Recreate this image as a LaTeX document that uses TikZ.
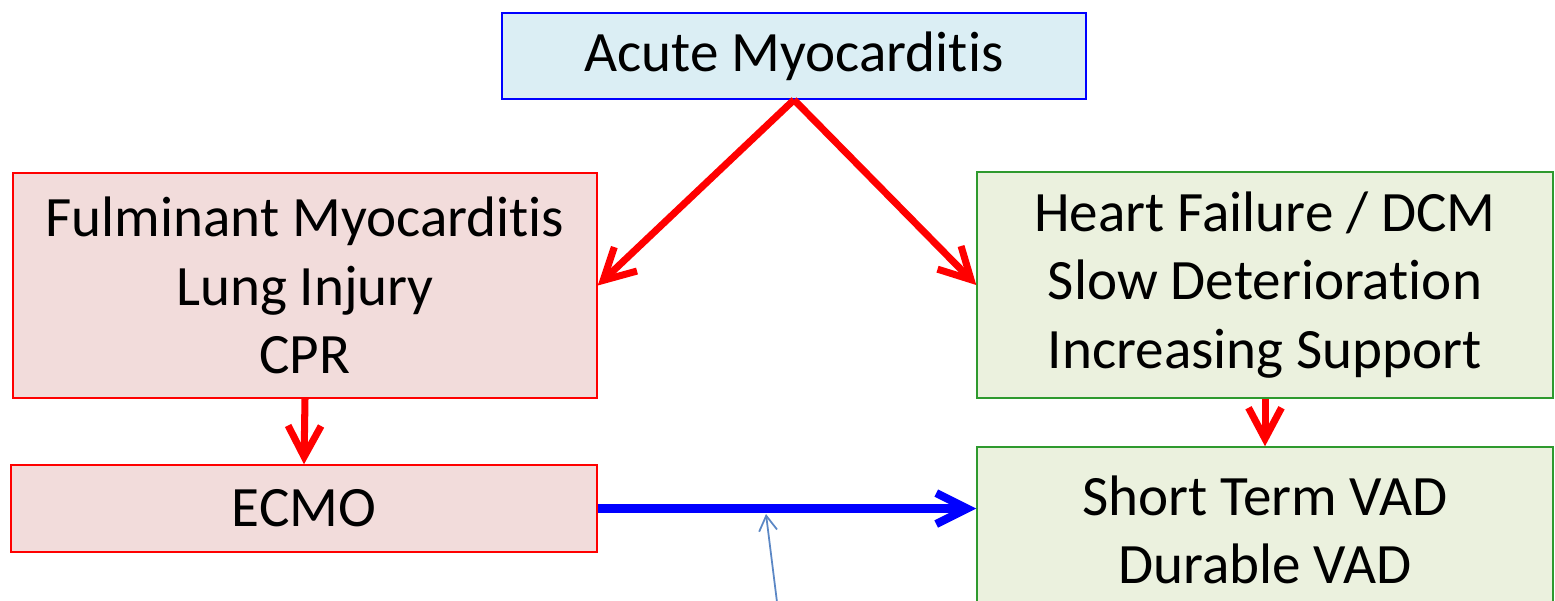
\documentclass[tikz,border=0pt]{standalone}
\usepackage{fontspec}
\setmainfont{Carlito}[Ligatures=NoCommon]
\usetikzlibrary{arrows.meta}
\definecolor{bluefill}{HTML}{DBEEF4}
\definecolor{redfill}{HTML}{F2DCDB}
\definecolor{greenfill}{HTML}{EBF1DE}
\definecolor{boxgreen}{HTML}{2E9A2E}
\definecolor{hintblue}{HTML}{5B87C5}
\tikzset{
  box/.style={rectangle, align=center, inner sep=0pt, line width=0.9pt,
    font=\fontsize{32.5}{39}\selectfont},
  bluebox/.style={box, draw=blue, fill=bluefill},
  redbox/.style={box, draw=red, fill=redfill},
  greenbox/.style={box, draw=boxgreen, fill=greenfill},
  redarrow/.style={draw=red, line width=4pt, -{Straight Barb[length=0.62cm, width=0.66cm]}},
  bluearrow/.style={draw=blue, line width=4.6pt, -{Straight Barb[length=0.62cm, width=0.62cm]}}
}
\begin{document}
\begin{tikzpicture}[x=0.02cm, y=-0.02cm]
  \useasboundingbox (0,0) rectangle (1555,600);
  \clip (0,0) rectangle (1555,600);
  \fill[white] (0,0) rectangle (1555,600);

  \node[bluebox, minimum width=11.68cm, minimum height=1.72cm] (acute) at (794,56) {Acute Myocarditis};
  \node[redbox, minimum width=11.68cm, minimum height=4.5cm] (fulm) at (305,285.5)
    {Fulminant Myocarditis\\Lung Injury\\CPR};
  \node[redbox, minimum width=11.72cm, minimum height=1.74cm] (ecmo) at (304,508.5) {ECMO};
  \node[greenbox, minimum width=11.52cm, minimum height=4.52cm] (heart) at (1265,285)
    {Heart Failure / DCM\\Slow Deterioration\\Increasing Support};
  \node[greenbox, minimum width=11.52cm, minimum height=3.32cm] (vad) at (1265,530)
    {Short Term VAD\\Durable VAD};

  \draw[redarrow] (acute.south) -- (fulm.east);
  \draw[redarrow] (acute.south) -- (heart.west);
  \draw[redarrow] (fulm.south) -- (ecmo.north);
  \draw[redarrow] (heart.south) -- (vad.north);
  \draw[bluearrow] (ecmo.east) -- (ecmo.east -| vad.west);

  % thin pointer from below
  \coordinate (hintfoot) at (778,610);
  \coordinate (hinttip) at (766,514);
  \draw[hintblue, line width=1pt, -{Straight Barb[length=0.3cm, width=0.36cm]}] (hintfoot) -- (hinttip);
\end{tikzpicture}
\end{document}
